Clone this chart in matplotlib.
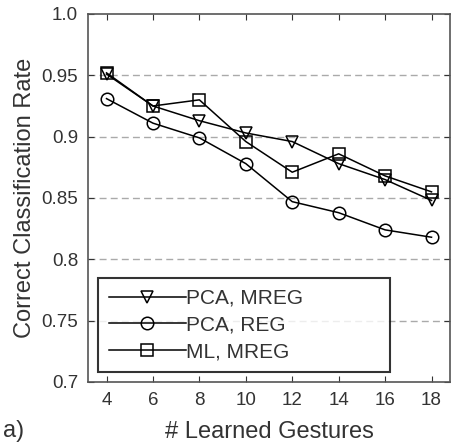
import numpy as np
import matplotlib.pyplot as plt

plt.rcParams['font.family'] = ['Liberation Sans', 'DejaVu Sans']

gestures = [4, 6, 8, 10, 12, 14, 16, 18]
pca_mreg = [0.951, 0.925, 0.913, 0.903, 0.896, 0.878, 0.865, 0.848]
pca_reg = [0.931, 0.911, 0.899, 0.878, 0.847, 0.838, 0.824, 0.818]
ml_mreg = [0.952, 0.925, 0.930, 0.896, 0.871, 0.886, 0.868, 0.855]
y_ticks = [0.7, 0.75, 0.8, 0.85, 0.9, 0.95, 1.0]
y_tick_labels = ['0.7', '0.75', '0.8', '0.85', '0.9', '0.95', '1.0']

fig = plt.figure(figsize=(4.51, 4.45), dpi=100)
ax = fig.add_axes([0.195, 0.1416, 0.803, 0.827])

txt = '#333333'
common = dict(color='black', linewidth=1.1, markersize=9,
              markerfacecolor='none', markeredgecolor='black', markeredgewidth=1.1)
ax.plot(gestures, pca_mreg, marker='v', label='PCA, MREG', **common)
ax.plot(gestures, pca_reg, marker='o', label='PCA, REG', **common)
ax.plot(gestures, ml_mreg, marker='s', label='ML, MREG', **common)

ax.set_xlim(3.2, 18.8)
ax.set_ylim(0.7, 1.0)
ax.set_xticks(gestures)
ax.set_yticks(y_ticks)
ax.set_yticklabels(y_tick_labels)
ax.tick_params(direction='in', top=True, right=True, length=4,
               labelsize=13.5, colors=txt, pad=7)
for s in ax.spines.values():
    s.set_color('#555555')
    s.set_linewidth(1.2)

for y in y_ticks[1:-1]:
    ax.axhline(y, color='#aaaaaa', linestyle=(0, (5, 3)), linewidth=1.0, zorder=0)

ax.set_xlabel('# Learned Gestures', fontsize=17, color=txt, labelpad=9)
ax.set_ylabel('Correct Classification Rate', fontsize=17, color=txt, labelpad=4)

leg = ax.legend(loc='lower left', bbox_to_anchor=(0.028, 0.027, 0.807, 0.25),
                mode='expand', fontsize=15, handlelength=3.7, handletextpad=0.0,
                borderaxespad=0, labelspacing=0.38, borderpad=0.5,
                fancybox=False, frameon=True)
leg.get_frame().set_edgecolor('black')
leg.get_frame().set_linewidth(1.5)
for t in leg.get_texts():
    t.set_color(txt)

fig.text(0.007, 0.018, 'a)', fontsize=17, color=txt)

fig.savefig('out.png', dpi=100)
